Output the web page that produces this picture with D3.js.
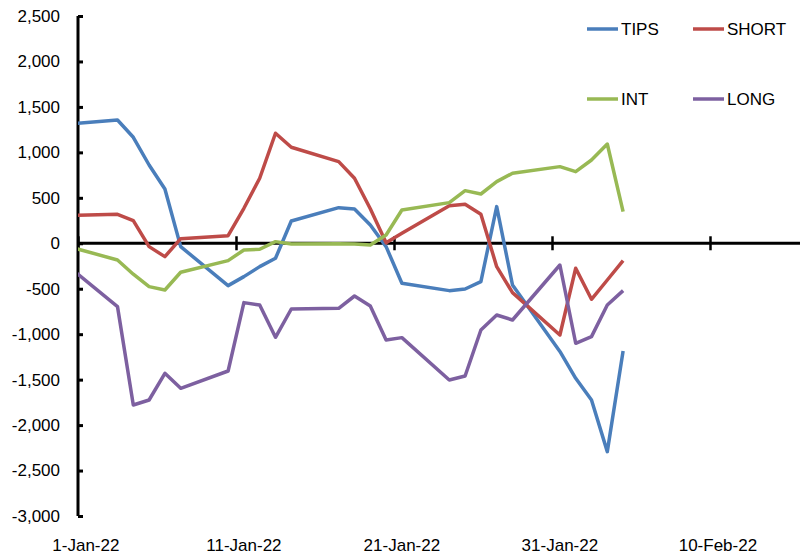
<!DOCTYPE html>
<meta charset="utf-8">
<style>
  body { margin: 0; background: #fff; }
  text { font-family: "Liberation Sans", Arial, sans-serif; font-size: 17px; fill: #000; }
  .series path { fill: none; stroke-width: 3.5px; stroke-linejoin: round; }
</style>
<svg width="800" height="558"></svg>
<script src="https://d3js.org/d3.v7.min.js"></script>
<script>
  var dates = ["2021-12-31", "2022-01-03", "2022-01-04", "2022-01-05", "2022-01-06", "2022-01-07",
    "2022-01-10", "2022-01-11", "2022-01-12", "2022-01-13", "2022-01-14",
    "2022-01-17", "2022-01-18", "2022-01-19", "2022-01-20", "2022-01-21",
    "2022-01-24", "2022-01-25", "2022-01-26", "2022-01-27", "2022-01-28",
    "2022-01-31", "2022-02-01", "2022-02-02", "2022-02-03", "2022-02-04"];

  var tips = [1312, 1356, 1166, 861, 597, -37, -466, -367, -257, -165, 245,
    392, 377, 201, -37, -440, -521, -503, -422, 403, -459, -1190, -1485, -1724, -2292, -1185];
  var short = [306, 319, 249, -37, -147, 51, 84, 385, 715, 1210, 1056,
    898, 715, 380, 5, 110, 413, 429, 319, -257, -543, -1009, -275, -616, -404, -191];
  var inter = [-40, -184, -340, -477, -514, -319, -191, -74, -66, 18, -8,
    -5, -8, -19, 91, 366, 447, 579, 542, 678, 770, 843, 788, 916, 1092, 348];
  var long = [-270, -697, -1779, -1724, -1430, -1595, -1405, -653, -679, -1034, -723,
    -715, -580, -690, -1064, -1038, -1504, -1460, -954, -789, -844, -239, -1100, -1027, -679, -521];

  var seriesNames = ["TIPS", "SHORT", "INT", "LONG"];
  var seriesColors = ["#4a7ebb", "#be4b48", "#98b954", "#7d60a0"];
  var tickDates = ["2022-01-01", "2022-01-11", "2022-01-21", "2022-01-31", "2022-02-10"];
  var yTicks = [2500, 2000, 1500, 1000, 500, 0, -500, -1000, -1500, -2000, -2500, -3000];

  var parse = d3.utcParse("%Y-%m-%d");
  var svg = d3.select("svg");

  var x = d3.scaleUtc()
    .domain([parse("2022-01-01"), parse("2022-02-16")])
    .range([78, 78 + 46 * 15.8]);
  var y = d3.scaleLinear().domain([-3000, 2500]).range([516, 16]);

  // points sit in the middle of each day, like an Excel date axis
  function xMid(d) {
    return x(d3.utcHour.offset(parse(d), 12));
  }

  var data = [tips, short, inter, long].map(function(vals, i) {
    return {
      name: seriesNames[i],
      color: seriesColors[i],
      values: vals.map(function(v, j) { return { date: dates[j], value: v }; })
    };
  });

  svg.append("clipPath").attr("id", "plot")
    .append("rect").attr("x", 78).attr("y", 0).attr("width", 722).attr("height", 558);

  var line = d3.line()
    .x(function(d) { return xMid(d.date); })
    .y(function(d) { return y(d.value); });

  // y axis
  var yAxis = svg.append("g")
    .attr("transform", "translate(78,0)")
    .call(d3.axisRight(y).tickValues(yTicks).tickSize(5).tickFormat(""));
  yAxis.select(".domain").attr("stroke", "#000").attr("stroke-width", 3)
    .attr("d", "M0," + y(2500) + "V" + y(-3000));
  yAxis.selectAll(".tick line").attr("stroke", "#000").attr("stroke-width", 3);

  svg.append("g").selectAll("text")
    .data(yTicks)
    .enter().append("text")
    .attr("x", 60)
    .attr("y", function(d) { return y(d); })
    .attr("dy", "0.35em")
    .attr("text-anchor", "end")
    .text(function(d) { return d3.format(",")(d).replace("\u2212", "-"); });

  // x axis along zero
  var xAxis = svg.append("g")
    .attr("transform", "translate(0," + y(0) + ")")
    .call(d3.axisBottom(x).tickValues(tickDates.map(parse)).tickSize(0).tickFormat(""));
  xAxis.select(".domain").attr("stroke", "#000").attr("stroke-width", 3)
    .attr("d", "M78,0H800");
  xAxis.selectAll(".tick line")
    .attr("stroke", "#000").attr("stroke-width", 2.5)
    .attr("y1", -7).attr("y2", 7);

  var fmt = d3.utcFormat("%-d-%b-%y");
  svg.append("g").selectAll("text")
    .data(tickDates)
    .enter().append("text")
    .attr("x", function(d) { return xMid(d); })
    .attr("y", 551)
    .attr("text-anchor", "middle")
    .text(function(d) { return fmt(parse(d)); });

  svg.append("g")
    .attr("class", "series")
    .attr("clip-path", "url(#plot)")
    .selectAll("path")
    .data(data)
    .enter().append("path")
    .attr("stroke", function(d) { return d.color; })
    .attr("d", function(d) { return line(d.values); });

  // legend, two rows of two
  var legend = svg.append("g").selectAll("g")
    .data(data)
    .enter().append("g")
    .attr("transform", function(d, i) {
      return "translate(" + (587 + (i % 2) * 106) + "," + (29 + Math.floor(i / 2) * 70) + ")";
    });
  legend.append("line")
    .attr("x1", 0).attr("x2", 31)
    .attr("stroke", function(d) { return d.color; })
    .attr("stroke-width", 3.5);
  legend.append("text")
    .attr("x", 34)
    .attr("dy", "0.35em")
    .text(function(d) { return d.name; });
</script>
